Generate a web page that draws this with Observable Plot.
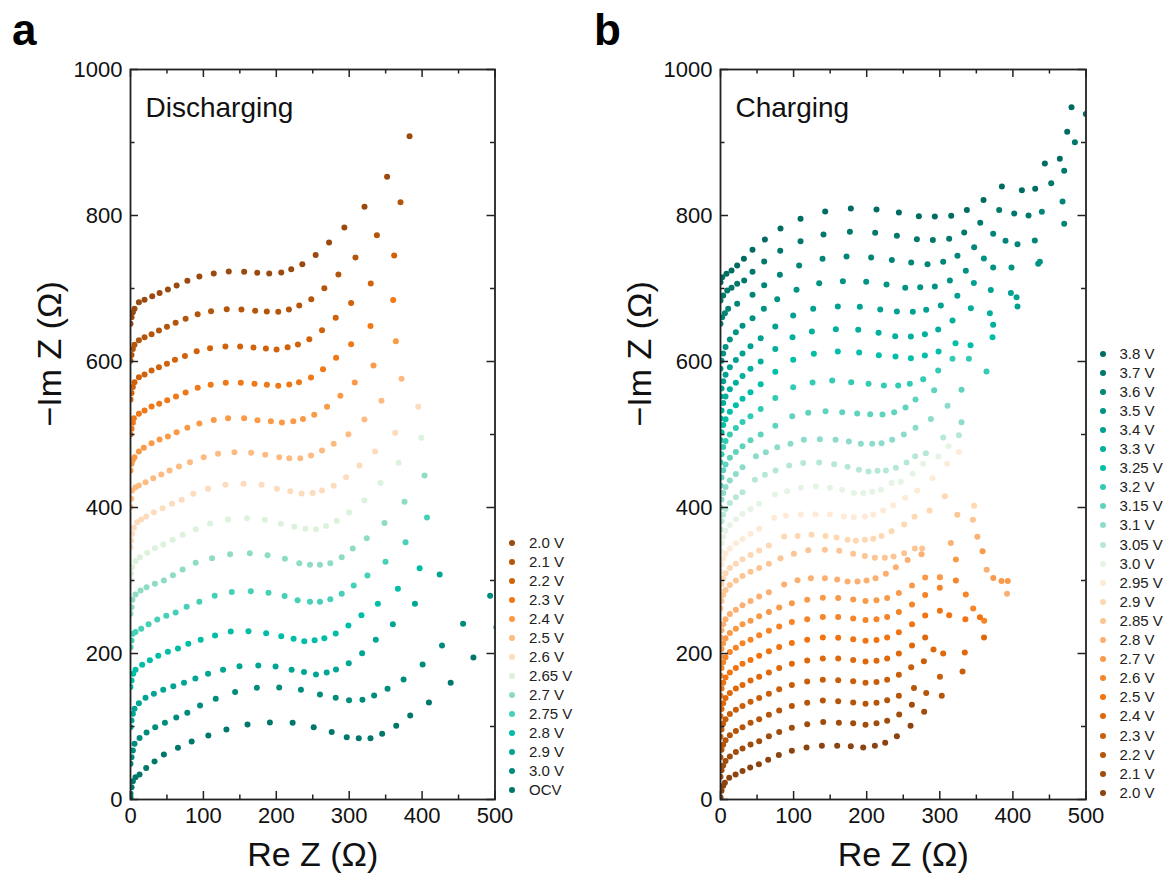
<!DOCTYPE html>
<html><head><meta charset="utf-8">
<script src="https://cdn.jsdelivr.net/npm/d3@7"></script>
<script src="https://cdn.jsdelivr.net/npm/@observablehq/plot@0.6"></script>
<style>
body{margin:0;background:#fff;font-family:"Liberation Sans",Arial,sans-serif;}
#wrap{position:relative;width:1172px;height:885px;overflow:hidden;}
.panel{position:absolute;top:0;}
.letter{position:absolute;font-weight:bold;font-size:44px;color:#000;line-height:1;}
.leg{position:absolute;font-size:15px;color:#222;}
.leg div{position:absolute;white-space:nowrap;height:16px;line-height:16px;}
.leg span.d{position:absolute;width:6px;height:6px;border-radius:50%;top:5px;}
</style></head>
<body><div id="wrap"></div>
<script>
// ---------- Panel a : Discharging ----------
const a_2_0 = [[0,651.6],[1.4,660.7],[3.2,667.5],[5.5,672.1],[11.5,681],[19.3,684.5],[29.8,689.5],[39.9,694],[51.3,698.6],[63.3,704],[78,710.5],[94.5,716.4],[114.2,720.5],[134.8,723.3],[155.9,722.8],[173.8,721.5],[190.3,720.5],[206.8,722],[220.5,726.4],[235.7,733.3],[254,746],[272.4,763],[293.4,783.6],[321,812],[352,853],[382.8,908.6]];
const a_2_1 = [[0,601],[1.4,609],[3.2,617],[5.5,623],[11.5,629],[19.3,633.3],[28.9,637.5],[39,642.6],[50,647.6],[61.9,653],[75.6,658.5],[92.1,664.8],[110.5,669],[132,671.7],[152.2,671.2],[171,669.4],[187,668.5],[202.7,668],[217.3,671.2],[231.5,676.7],[248,685.4],[265.9,700.4],[285.2,719.2],[308.6,742.5],[338,773],[370.4,818.2]];
const a_2_2 = [[0,548],[1.4,557],[3.2,565],[5.5,571.6],[11.5,578.5],[19.3,582.2],[28.9,587.6],[39,592.2],[50,596.8],[61,602.3],[74.7,607.7],[90.8,614.1],[109.1,618.2],[130.2,620.5],[150.4,620.5],[168.7,619.2],[185.7,617.8],[200.4,616.4],[215.5,619.6],[229.7,623.3],[245.3,630.6],[262.7,642.9],[281.5,659.8],[302.6,680.3],[329.6,706.8],[361.7,745.2]];
const a_2_3 = [[0,500],[1.4,508],[3.2,516],[4.6,522.4],[11.5,528.3],[19.3,532.9],[28.9,538.3],[39.4,542],[50.4,547],[62.4,552],[75.6,557.5],[92.2,563.9],[110,568],[130.7,570.8],[151.3,570.8],[170.1,569.4],[187.1,568],[202.7,566.7],[217.8,568.5],[231.1,571.7],[247.6,578.1],[264.1,589.5],[282,605],[302.6,623.7],[329.2,648.8],[360.3,684.4]];
const a_2_4 = [[0,450.7],[1.4,459.8],[3.2,465],[5.5,469],[11.5,476.7],[18.3,481.8],[28.9,488.1],[39.9,493.1],[51.3,497.3],[63.3,503.2],[78,509.1],[94.5,515],[114.2,520],[133.9,522.4],[155.9,522.4],[174.2,519.6],[192.6,518.3],[207.7,516.4],[223.3,518.3],[236.6,521.4],[252.1,526.9],[269.6,537.9],[287.9,553],[307.6,571.2],[333.3,594.5],[364,627.8]];
const a_2_5 = [[0,400.5],[0.9,411.9],[2.3,423.3],[6.9,427.9],[11.5,430.2],[20.6,434.7],[31.2,440.2],[42.2,445.2],[53.6,450.7],[66.5,456.2],[81.6,462.1],[100.4,469],[120.1,473.5],[142.6,475.8],[165.5,474.9],[184.8,472.2],[204,469],[217.8,467.6],[232.9,467.6],[247.6,471.3],[262.7,478.1],[278.7,487.2],[298.9,500.4],[320.9,520.5],[344.3,546.1],[371.8,576.3]];
const a_2_6 = [[0,345.7],[0.9,354.8],[2.3,364],[4.6,372.2],[9.2,379.9],[14.7,383.6],[21.5,387.7],[32.1,393.6],[44,399.1],[56.8,405],[70.1,410.5],[86.2,418.7],[106.4,425.6],[130.2,431.1],[155,432.4],[179.7,431.1],[200.8,425.6],[219.2,422.4],[234.7,419.2],[249.9,419.7],[262.7,423.3],[278.7,429.7],[295.7,441.6],[314,457.6],[335.6,476.7],[363.1,502.3],[394.7,537.9]];
const a_2_65 = [[0,300],[0.9,309.2],[2.3,318.3],[6.9,326.5],[12.8,332],[22.9,337.9],[33.5,344.3],[44.9,349.3],[57.8,355.7],[71.5,362.6],[89.4,370.3],[109.1,378.1],[133.9,383.6],[159.6,385.4],[184.3,383.1],[206.3,377.7],[224.7,373.5],[239.8,370.8],[254.4,370.3],[268.2,374.5],[282.9,381.8],[299.8,393.2],[320.9,409.6],[342.9,433.4],[367.7,461.2],[398.9,495.4]];
const a_2_7 = [[0,254.4],[1.4,263.5],[2.7,273.5],[6.9,280.8],[13.8,286.3],[22,290.9],[33.5,295.5],[45.8,300],[58.2,307.3],[71.5,315.1],[89.4,324.2],[111.9,330.6],[136.6,336.1],[163.7,337.5],[188,334.7],[211.8,329.7],[231.5,323.8],[246.2,321.5],[259.9,321.5],[274.1,323.8],[289.7,332],[304.9,343.9],[324.1,358],[348.4,378.6],[375.9,407.8],[403.4,443.9]];
const a_2_75 = [[0,208.7],[1.4,217.8],[3.2,227],[6.9,229.3],[14.7,233.8],[24.8,240.2],[36.7,246.6],[49.1,251.6],[61.9,256.2],[77,264],[94.4,270.8],[115.5,279],[138.9,284.1],[165,285.4],[189.3,283.1],[211.4,278.6],[229.2,273.1],[246.2,270.8],[259.9,270.8],[274.1,274.4],[289.7,281.8],[306.2,293.2],[325,306.9],[349.8,325.6],[377.3,352.5],[406.7,386.3]];
const a_2_8 = [[0,154],[1.4,163],[3.7,172.2],[6.9,177.7],[16,184.5],[26.6,190.9],[38.1,196.8],[51.3,202.3],[65.1,206.9],[79.3,213.3],[96.3,218.8],[116,224.7],[137.5,230.2],[161.8,230.6],[186.1,227.9],[206.8,223.8],[223.7,220.1],[238.4,216.9],[252.6,218.3],[265.9,221],[281.5,227.4],[298.9,238.4],[316.8,252.5],[339.3,268.1],[366.8,288.6],[396.6,316.9]];
const a_2_9 = [[0,99],[1.4,108.3],[3.2,117.4],[5.5,124.2],[11.5,132],[20.6,139.3],[32.1,144.8],[44.9,150.3],[58.7,155.3],[73.4,159.8],[89,165.8],[106.4,172.2],[127,177.7],[149.5,182.7],[175.3,183.6],[199,182.2],[221,177.7],[238,174.5],[254.4,171.3],[269.1,174],[281.9,178.1],[299.4,186.8],[317.7,200.5],[336.5,218.8],[359.9,240.2],[390.2,268.1],[424.1,308.2]];
const a_3_0 = [[0,48.9],[1.4,58],[3.2,67.2],[5.5,76.3],[12.4,84.1],[22,91.8],[33.9,99.1],[47.2,105.1],[62.8,112.4],[77.9,118.8],[95.4,128.8],[116.9,137.9],[143.5,147.1],[173.3,153],[204,153.5],[233.8,150.3],[259.9,143.9],[281.5,139.3],[299.8,136.1],[318.2,136.6],[334.2,142.5],[352.6,151.6],[374.6,164.4],[400.7,185],[427.3,211],[456.2,240.6],[493.3,279]];
const a_ocv = [[0,3],[0,7.8],[1.4,16.9],[3.2,25.1],[6.9,30.6],[12.4,34.3],[21.5,43],[33,52.1],[45.8,61.7],[65.1,70.8],[83.9,79.5],[106.8,87.7],[131.6,95.9],[160.5,102.8],[191.2,105.5],[222.4,105.1],[251.3,99.1],[276,92.3],[296.6,85.4],[313.1,84],[329.2,84],[345.2,90],[364.5,100.9],[383.7,115.1],[409.4,132.9],[439.2,159.8],[470.4,194.5],[502,236]];

const labelsA = ["2.0 V","2.1 V","2.2 V","2.3 V","2.4 V","2.5 V","2.6 V","2.65 V","2.7 V","2.75 V","2.8 V","2.9 V","3.0 V","OCV"];
const seriesA = [a_2_0,a_2_1,a_2_2,a_2_3,a_2_4,a_2_5,a_2_6,a_2_65,a_2_7,a_2_75,a_2_8,a_2_9,a_3_0,a_ocv];
const colorsA = ["#9a4a0e","#b3560b","#cf620a","#ef7818","#fa9a46","#fdbb82","#fddcbd","#dcf2dc","#8edcc6","#45d0b7","#00bea6","#00a693","#008c7d","#00776b"];

// ---------- Panel b : Charging ----------
const b_2_0 = [[0,3],[1.4,12],[3.7,19],[6,23],[11.9,29.7],[20.6,34.3],[30.1,38.9],[40.6,43.9],[52.5,48.4],[65.2,54.4],[79.8,60.8],[97.6,66.7],[117.7,71.3],[138.7,73.6],[159.6,73.6],[178.3,73.1],[195.2,71.3],[211.2,73.6],[225.3,77.7],[241.3,86.8],[260,101]];
const b_2_1 = [[0,31],[1.4,40],[3.7,46.6],[6.9,52.6],[12.8,59],[21,64.9],[30.1,69.9],[41.1,75.4],[52.9,79.9],[66.2,86.8],[80.3,92.3],[97.6,98.2],[118.6,103.2],[140.5,106],[161.9,105.1],[181.5,104.6],[198.4,102.3],[213.4,104.6],[228,107.8],[244.4,116.5],[261.8,129.7],[278.6,120.1]];
const b_2_2 = [[0,58],[1.4,68],[3.7,75],[6.9,81],[12.8,88],[21,94],[30.1,99],[41.1,105],[52.9,110],[66.2,116],[80.3,122],[97.6,128],[118.6,132.5],[140,135.7],[161,134.7],[181.5,133],[198.4,131],[213.4,132.5],[228,136],[244,142],[264.7,152.6],[281.4,145.8],[302.7,142.1]];
const b_2_3 = [[0,86],[1.4,96],[3.7,104],[6.9,110],[12.8,117],[21,123],[30.1,128],[41.1,134],[52.9,139],[66.2,145],[80.3,151],[97.6,157],[118.6,161.5],[140,164],[161,163.5],[181.5,162],[198.4,160],[213.4,161],[228,164],[244,171],[260.9,181],[278.2,189.5],[300.2,168.1],[331.1,175.4]];
const b_2_4 = [[0,114],[1.4,124],[3.7,132],[6.9,139],[12.8,146],[21,152],[30.1,157],[41.1,163],[52.9,168],[66.2,174],[80.3,180],[97.6,186],[118.6,190.5],[140,193],[161,193],[181.5,191],[198.4,189],[213.4,190],[228,193],[244,200],[262,211],[280,222],[291.4,205.5],[304.6,200],[334.2,201.4],[360.5,221.9]];
const b_2_5 = [[0,142],[1.4,152],[3.7,160],[6.9,167],[12.8,174],[21,180],[30.1,186],[41.1,191],[52.9,197],[66.2,203],[80.3,209],[97.6,214.5],[118.6,219],[140,222],[161,221.5],[181.5,219.5],[198.4,217.5],[213.4,218.5],[228,222],[244,229],[262,240],[280,252],[300.1,258.5],[312.8,252.5],[335,247],[354.9,249.7]];
const b_2_6 = [[0,170],[1.4,180],[3.7,188],[6.9,195],[12.8,202],[21,208],[30.1,214],[41.1,219],[52.9,225],[66.2,231],[80.3,237],[97.6,243],[118.6,247],[140,250],[161,250],[181.5,248],[198.4,246],[213.4,247],[228,250],[244,257],[262,267],[280,280],[300,290],[322,300],[335.6,280.9],[345.7,261.7],[360.7,244.8]];
const b_2_7 = [[0,196],[1.4,206],[3.7,214],[6.9,221],[12.8,228],[21,234],[30.1,240],[41.1,245],[52.9,251],[66.2,257],[80.3,263],[97.6,269],[118.6,273.5],[140,276.5],[161,276],[181.5,274],[198.4,272],[213.4,273],[228,276],[244,283],[262,293],[280,304],[300.1,304.6],[322,328.8],[358.5,339.9],[373.2,303.4],[384.4,299.3],[393,299.3]];
const b_2_8 = [[0,222],[1.4,232],[3.7,240],[6.9,247],[12.8,254],[21,260],[30.1,266],[41.1,272],[52.9,278],[66.2,284],[87.1,294.6],[105.4,300.5],[123.6,303.2],[142.8,303.2],[159.6,301.4],[173.8,298.7],[187.4,298.7],[199.8,300],[212.1,303.2],[226.2,309.2],[239.9,318.3],[256,328],[275,336],[315.1,351.2],[351.4,359.9],[364.1,314.8],[392,282]];
const b_2_85 = [[0,262],[1.4,272],[3.7,280],[6.9,287],[12.8,294],[21,300],[30.1,306],[41.1,312],[52.9,317],[66.2,323],[82.1,330.6],[100.4,336.6],[120,341.6],[142.8,342],[162.4,340.7],[181.5,336.6],[197.5,333.4],[211.2,331.1],[224.8,331.1],[236.7,332.9],[251.3,337.5],[265.9,343.9],[275.9,343.9],[300.1,304.6],[324,390],[345.3,383.1]];
const b_2_9 = [[0,285],[1.4,295],[3.7,303],[6.9,310],[12.8,317],[21,323],[30.1,329],[41.1,335],[52.9,341],[66.2,348],[87.1,360.3],[105.4,360.8],[124.5,362.6],[143.7,360.8],[158.7,359],[173.8,355.7],[185.2,354.4],[197.5,355.7],[208.9,357.1],[220.3,360.8],[234,367.6],[251.3,376.7],[265.4,387.2],[286,396],[306.9,415.5],[346.9,402.3]];
const b_2_95 = [[0,312],[1.4,322],[3.7,330],[6.9,337],[12.8,344],[21,351],[30.1,357],[41.1,364],[52.9,371],[73.4,385.9],[89.4,388.6],[109.9,390.4],[130,390.9],[149.6,390.4],[168.8,387.7],[182.4,386.8],[197.5,387.7],[208.9,390.4],[222.6,395.9],[236.2,403.2],[252.7,413.3],[269.1,423.3],[290,440],[310,460],[326,476]];
const b_3_0 = [[0,340],[1.4,351],[3.7,360],[6.9,368],[12.8,376],[21,384],[30.1,391],[41.1,398],[52.9,405],[74.4,417.8],[91.2,422.4],[109.9,427],[130.4,429.2],[149.6,427],[166.5,424.2],[182.4,419.7],[195.2,419.7],[207.5,421.5],[219.4,424.2],[234,433.4],[246.7,435.2],[262.7,446.1],[277.3,459.8],[298,470],[312,484]];
const b_3_05 = [[0,370],[1.4,381],[3.7,390],[6.9,398],[12.8,406],[21,414],[30.1,421],[47,438],[60.7,444.8],[75.3,450.7],[94,457.6],[113.1,460.8],[135,461.7],[155.5,459.4],[173.8,455.7],[189.3,451.6],[202.5,449.3],[214.8,450.2],[226.2,450.7],[239.9,454.4],[254.5,461.7],[266.3,470.3],[280.9,474.4],[304.6,495.9],[326.1,499]];
const b_3_1 = [[0,400],[1.4,411],[3.7,420],[6.9,428],[12.8,437],[21,446],[30.1,455],[48.4,470.3],[62,475.8],[77.6,482.7],[95.8,487.2],[114,492.7],[135.9,493.6],[157.4,492.7],[175.6,490.4],[192,487.2],[207.5,487.2],[220.3,488.1],[234.9,492.7],[250.8,500],[266.8,509.1],[287.8,521.4],[310.6,539.3],[329.7,516.9]];
const b_3_15 = [[0,430],[1.4,441],[3.7,451],[6.9,459],[12.8,468],[21,476],[30.1,484],[41,492],[55,500],[75,512],[98.1,525.1],[120,529.7],[143.7,532],[166.5,530.6],[187,528.8],[204.8,527.9],[221.6,527.4],[237.6,530.6],[253.1,537],[266.8,547.9],[292.3,560.7],[329.7,561.2]];
const b_3_2 = [[0,462],[1.4,473],[3.7,483],[6.9,491],[12.8,500],[21,509],[30.1,517],[41,525],[55,535],[75,550],[99.4,564.8],[125.9,571.2],[152.8,573.9],[178.8,571.7],[202.5,569.4],[223.5,567.1],[243.1,567.1],[259,569.4],[277.3,575.8],[297.8,587.7],[317.4,603.6],[339.8,603.6],[363.9,586.3]];
const b_3_25 = [[0,492],[1.4,503],[3.7,513],[6.9,521],[12.8,531],[21,540],[30.1,549],[41,558],[55,569],[75,586],[99.4,602.3],[127.7,610.5],[160.5,613.7],[189.7,612.3],[216.6,608.7],[239.4,606.8],[260.4,604.5],[279.6,608.2],[298.3,613.7],[321.5,625.1],[342,622.4],[372.1,633.3]];
const b_3_3 = [[0,522],[1.4,533],[3.7,543],[6.9,552],[12.8,562],[21,571],[30.1,580],[41,590],[55,600],[75,617],[98.5,633.3],[125,641.1],[157.8,644.3],[188.4,643.4],[216.2,639.3],[239,634.7],[260.4,634.2],[279.6,637.4],[297.8,643.8],[317.4,656.1],[342.5,673],[368.5,666.2],[373,650.2]];
const b_3_4 = [[0,552],[1.4,563],[3.7,573],[6.9,582],[12.8,592],[21,602],[30.1,611],[41,621],[55,632],[75,648],[99.4,663],[126.8,672.1],[160.5,675.3],[190.6,674.9],[218.5,671.2],[241.3,668.5],[263.1,668],[281.4,670.8],[301.4,676.7],[324,690],[346.6,707.7],[369.8,698.1],[397.2,694],[405,688.1],[406.3,675.3]];
const b_3_5 = [[0,590],[1.4,601],[3.7,611],[6.9,620],[12.8,630],[21,640],[30.1,649],[43.8,659.3],[59.3,672.1],[77.6,685.4],[104,698.2],[135,707.3],[167.4,710.1],[199.3,709.1],[227.1,705.5],[252.7,700.9],[273.2,701.8],[293.2,702.7],[313.8,710.9],[335.6,724.2],[360.3,741.1],[373,728.7],[398.1,728.7],[434.6,733.8],[436.9,736.5]];
const b_3_6 = [[0,651.6],[2.3,660.7],[6,666.2],[10.5,672.1],[22.8,679],[43.8,691.3],[59.8,704.5],[81.2,718.7],[107.6,731.5],[139.6,740.6],[172.4,743.8],[206.1,742.4],[234.4,739.2],[260.9,735.6],[283.2,733.3],[304.6,736.5],[324.2,744.7],[347,756.6],[373,774.9],[389.9,765.3],[406.3,760.7],[430,765.7],[439.6,805],[467.9,819.2],[470.2,788.6]];
const b_3_7 = [[0,683.5],[3.7,690.4],[9.2,697.2],[15.1,700.9],[22.8,706.4],[32.4,710.9],[43.8,722.8],[59.8,737],[81.7,751.6],[109.5,764.8],[140.9,774],[177,777.6],[211.6,776.2],[241.3,772.1],[268.6,767.6],[290.5,766.6],[312.8,768],[333.4,776.7],[355.3,789.9],[381.2,807.7],[401.8,802.7],[421.4,800],[452.4,844.3],[470.2,861.2],[484.8,900.4]];
const b_3_8 = [[0,708.6],[2.3,715.5],[8.2,720.1],[15.1,724.6],[22.8,731.5],[32,740.6],[43.8,753],[60.7,767.1],[82.1,782.2],[109.5,795.4],[143.2,805.5],[178.3,809.6],[213.4,808.2],[244,804.1],[271.4,799.1],[293.2,798.6],[315.6,799.5],[337,807.7],[359.8,821.4],[384.9,839.7],[412.3,834.7],[430.5,836.5],[443.7,871.2],[464.2,877.6],[474.3,914.6],[480.2,948.4],[499.8,939.2]];

const labelsB = ["3.8 V","3.7 V","3.6 V","3.5 V","3.4 V","3.3 V","3.25 V","3.2 V","3.15 V","3.1 V","3.05 V","3.0 V","2.95 V","2.9 V","2.85 V","2.8 V","2.7 V","2.6 V","2.5 V","2.4 V","2.3 V","2.2 V","2.1 V","2.0 V"];
const seriesB = [b_3_8,b_3_7,b_3_6,b_3_5,b_3_4,b_3_3,b_3_25,b_3_2,b_3_15,b_3_1,b_3_05,b_3_0,b_2_95,b_2_9,b_2_85,b_2_8,b_2_7,b_2_6,b_2_5,b_2_4,b_2_3,b_2_2,b_2_1,b_2_0];
const colorsB = ["#006c61","#00786c","#008577","#009383","#00a190","#00af9c","#00bfa8","#33cbb4","#60d3bf","#8ddbcb","#b6e8d8","#e5f4e4","#fdebd7","#fdd8b3","#fcc593","#fbb072","#f99a4a","#f78427","#f2730f","#df680b","#c95e0a","#b4550a","#9f4c0c","#8b430f"];

const xTicks = [0,100,200,300,400,500];
const xMinor = [50,150,250,350,450];
const yTicks = [0,200,400,600,800,1000];
const yMinor = [100,300,500,700,900];

const FONT = "'Liberation Sans', Arial, Helvetica, sans-serif";
const PH = 730; // plot height (px)

function panel(labels, series, colors, title, svgWidth, frameW) {
  const data = [];
  labels.forEach((lab, i) => series[i].forEach(([x, y]) => data.push({x, y, s: lab})));
  const ML = 130, MR = svgWidth - ML - frameW;
  const PW = frameW;
  return Plot.plot({
    width: svgWidth, height: 885,
    marginLeft: ML, marginRight: MR, marginTop: 69, marginBottom: 86,
    x: {domain: [0, 500]},
    y: {domain: [0, 1000]},
    color: {domain: labels, range: colors},
    style: {fontFamily: FONT, fontSize: "22px", color: "#111", background: "transparent", overflow: "visible"},
    marks: [
      Plot.dot(data, {x: "x", y: "y", fill: "s", r: 3, clip: true}),
      Plot.tickX(xTicks, {x: d => d, insetTop: PH - 8, stroke: "#222", strokeWidth: 1.5}),
      Plot.tickX(xTicks, {x: d => d, insetBottom: PH - 8, stroke: "#222", strokeWidth: 1.5}),
      Plot.tickX(xMinor, {x: d => d, insetTop: PH - 4.5, stroke: "#222", strokeWidth: 1.5}),
      Plot.tickX(xMinor, {x: d => d, insetBottom: PH - 4.5, stroke: "#222", strokeWidth: 1.5}),
      Plot.tickY(yTicks, {y: d => d, insetRight: PW - 8, stroke: "#222", strokeWidth: 1.5}),
      Plot.tickY(yTicks, {y: d => d, insetLeft: PW - 8, stroke: "#222", strokeWidth: 1.5}),
      Plot.tickY(yMinor, {y: d => d, insetRight: PW - 4.5, stroke: "#222", strokeWidth: 1.5}),
      Plot.tickY(yMinor, {y: d => d, insetLeft: PW - 4.5, stroke: "#222", strokeWidth: 1.5}),
      Plot.frame({stroke: "#222", strokeWidth: 1.8}),
      Plot.axisX({ticks: xTicks, tickSize: 0, tickPadding: 8, label: null, fontSize: 22, tickFormat: d => String(d)}),
      Plot.axisY({ticks: yTicks, tickSize: 0, tickPadding: 8, label: null, fontSize: 22, tickFormat: d => String(d)}),
      Plot.text([title], {frameAnchor: "top-left", dx: 15, dy: 28, fontSize: 28, textAnchor: "start", fill: "#111"}),
      Plot.text(["Re Z (\u03A9)"], {frameAnchor: "bottom", dy: 66, fontSize: 34, fill: "#111"}),
      Plot.text(["\u2212Im Z (\u03A9)"], {frameAnchor: "left", dx: -80, dy: -8, rotate: -90, fontSize: 34, fill: "#111"})
    ]
  });
}

const wrap = document.getElementById("wrap");
function place(el, left) { el.classList.add("panel"); el.style.left = left + "px"; wrap.appendChild(el); }
place(panel(labelsA, seriesA, colorsA, "Discharging", 500, 364.5), 0);
place(panel(labelsB, seriesB, colorsB, "Charging", 500, 365.5), 589.5);

function legend(labels, colors, left, top, step) {
  const box = document.createElement("div");
  box.className = "leg";
  box.style.left = left + "px"; box.style.top = top + "px";
  labels.forEach((lab, i) => {
    const row = document.createElement("div");
    row.style.top = (i * step - 8) + "px";
    row.style.left = "0px";
    const d = document.createElement("span");
    d.className = "d"; d.style.left = "-3px"; d.style.background = colors[i];
    const t = document.createElement("span");
    t.textContent = lab; t.style.position = "absolute"; t.style.left = "17px";
    row.appendChild(d); row.appendChild(t);
    box.appendChild(row);
  });
  wrap.appendChild(box);
}
legend(labelsA, colorsA, 512, 542.5, 19.0);
legend(labelsB, colorsB, 1102.5, 353.5, 19.1);

function letter(t, x, y) {
  const d = document.createElement("div");
  d.className = "letter"; d.textContent = t;
  d.style.left = x + "px"; d.style.top = y + "px";
  wrap.appendChild(d);
}
letter("a", 12, 8);
letter("b", 594, 8);
</script></body></html>
